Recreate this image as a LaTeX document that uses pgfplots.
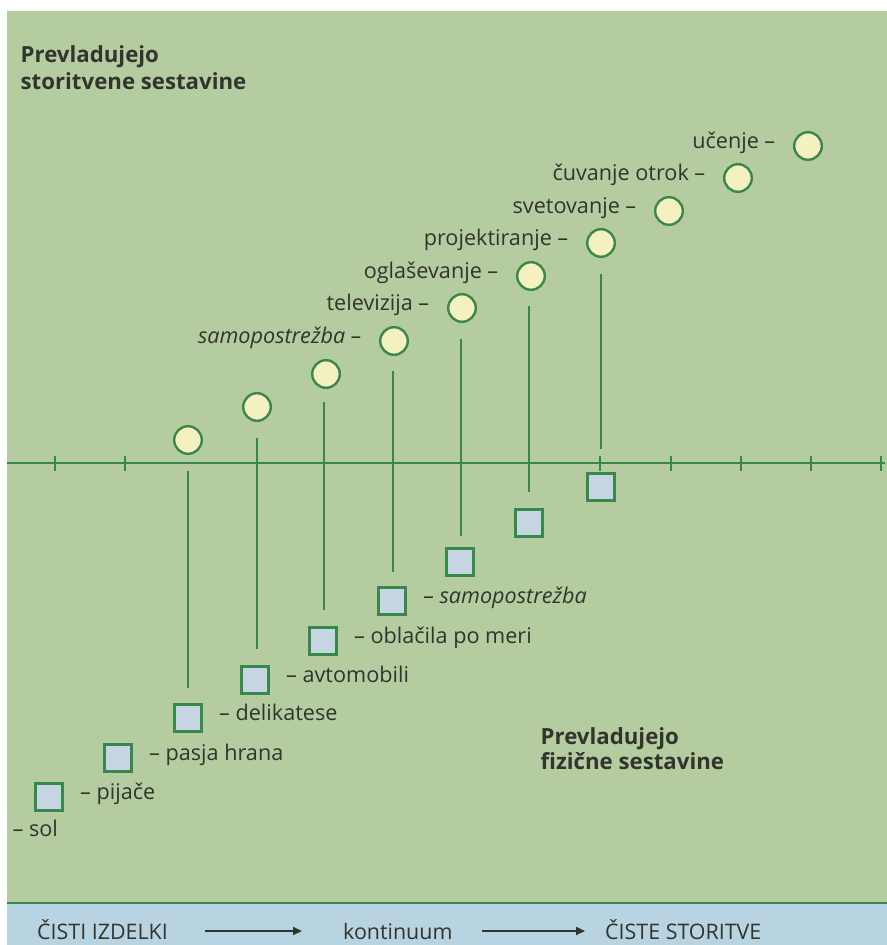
\documentclass[border=0pt]{standalone}
\usepackage{fontspec}
\setmainfont{Open Sans}
\usepackage{pgfplots}
\pgfplotsset{compat=1.18}
\usetikzlibrary{arrows.meta}
\definecolor{bggreen}{RGB}{180,204,159}
\definecolor{lgreen}{RGB}{56,136,76}
\definecolor{cream}{RGB}{245,240,192}
\definecolor{sqblue}{RGB}{198,213,226}
\definecolor{band}{RGB}{184,211,225}
\definecolor{txt}{RGB}{50,52,46}
\newcommand{\lab}{\fontsize{21.7}{25}\selectfont}
\newcommand{\ttl}{\bfseries\fontsize{22.3}{27}\selectfont}
\begin{document}
\begin{tikzpicture}
\begin{axis}[
  scale only axis, width=887bp, height=945bp,
  xmin=0, xmax=887, ymin=0, ymax=945, y dir=reverse,
  hide axis, clip=true, clip marker paths=true,
]
\coordinate (bbA) at (axis cs:0,0);
\coordinate (bbB) at (axis cs:887,945);
% page background
\addplot[draw=none, fill=white] coordinates {(0,0) (887,0) (887,945) (0,945)} -- cycle;
\addplot[draw=none, fill=bggreen] coordinates {(7,11) (887,11) (887,903) (7,903)} -- cycle;
\addplot[draw=none, fill=band] coordinates {(7,903) (887,903) (887,945) (7,945)} -- cycle;
\addplot[lgreen, line width=2bp] coordinates {(7,903) (887,903)};
% continuum axis
\addplot[lgreen, line width=2.4bp] coordinates {(7,463) (885,463)};
\addplot[lgreen, only marks, mark=|, mark size=7.5bp, mark options={line width=1.6bp}]
  coordinates {(55,463) (125,463) (600,463) (671,463) (741,463) (811,463) (881,463)};
% stems
\addplot[lgreen, line width=2bp] coordinates {(188,471) (188,688)};
\addplot[lgreen, line width=2bp] coordinates {(257,438) (257,649)};
\addplot[lgreen, line width=2bp] coordinates {(324,402) (324,610)};
\addplot[lgreen, line width=2bp] coordinates {(393,371) (393,572)};
\addplot[lgreen, line width=2bp] coordinates {(461,339) (461,536)};
\addplot[lgreen, line width=2bp] coordinates {(529,306) (529,492)};
\addplot[lgreen, line width=2bp] coordinates {(601,274) (601,449)};
% intangible (circles)
\addplot[only marks, mark=*, mark size=13.8bp, mark options={fill=cream, draw=lgreen, line width=2.4bp}]
  coordinates {(188,440) (257,407) (326,374) (394,341) (462,308) (531,276) (601,243) (669,211) (738,178) (808,146)};
% tangible (squares)
\addplot[only marks, mark=square*, mark size=13.5bp, mark options={fill=sqblue, draw=lgreen, line width=2.4bp}]
  coordinates {(-19,834) (49,797) (118,758) (188,718) (255,680) (323,641) (392,601) (460,562) (529,523) (601,487)};
% circle labels
\begin{scope}[every node/.style={anchor=mid east, inner sep=0pt, text=txt, font=\lab}]
\node at (axis cs:361.5,341) {\itshape samopostrežba –};
\node at (axis cs:429.5,308) {televizija –};
\node at (axis cs:498.5,276) {oglaševanje –};
\node at (axis cs:568.5,243) {projektiranje –};
\node at (axis cs:636.5,211) {svetovanje –};
\node at (axis cs:705.5,178) {čuvanje otrok –};
\node at (axis cs:775.5,146) {učenje –};
\end{scope}
% square labels
\begin{scope}[every node/.style={anchor=mid west, inner sep=0pt, text=txt, font=\lab}]
\node at (axis cs:12.5,834) {– sol};
\node at (axis cs:80,797) {– pijače};
\node at (axis cs:149,758) {– pasja hrana};
\node at (axis cs:219,718) {– delikatese};
\node at (axis cs:286,680) {– avtomobili};
\node at (axis cs:354,641) {– oblačila po meri};
\node at (axis cs:423,601) {– \itshape samopostrežba};
\end{scope}
% titles
\begin{scope}[every node/.style={anchor=base west, inner sep=0pt, text=txt, font=\ttl}]
\node at (axis cs:20.5,63) {Prevladujejo};
\node at (axis cs:20.5,90) {storitvene sestavine};
\node at (axis cs:540.5,744) {Prevladujejo};
\node at (axis cs:540.5,769) {fizične sestavine};
\end{scope}
% bottom band
\begin{scope}[every node/.style={anchor=base west, inner sep=0pt, text=txt, font=\fontsize{21.5}{26}\selectfont}]
\node at (axis cs:37,939) {ČISTI IZDELKI};
\node at (axis cs:343,939) {kontinuum};
\node at (axis cs:605,939) {ČISTE STORITVE};
\end{scope}
\addplot[txt, line width=1.8bp, -{Triangle[length=9bp,width=8bp]}] coordinates {(205,931) (302,931)};
\addplot[txt, line width=1.8bp, -{Triangle[length=9bp,width=8bp]}] coordinates {(482,931) (585,931)};
\end{axis}
\pgfresetboundingbox
\useasboundingbox (bbA) rectangle (bbB);
\end{tikzpicture}
\end{document}
